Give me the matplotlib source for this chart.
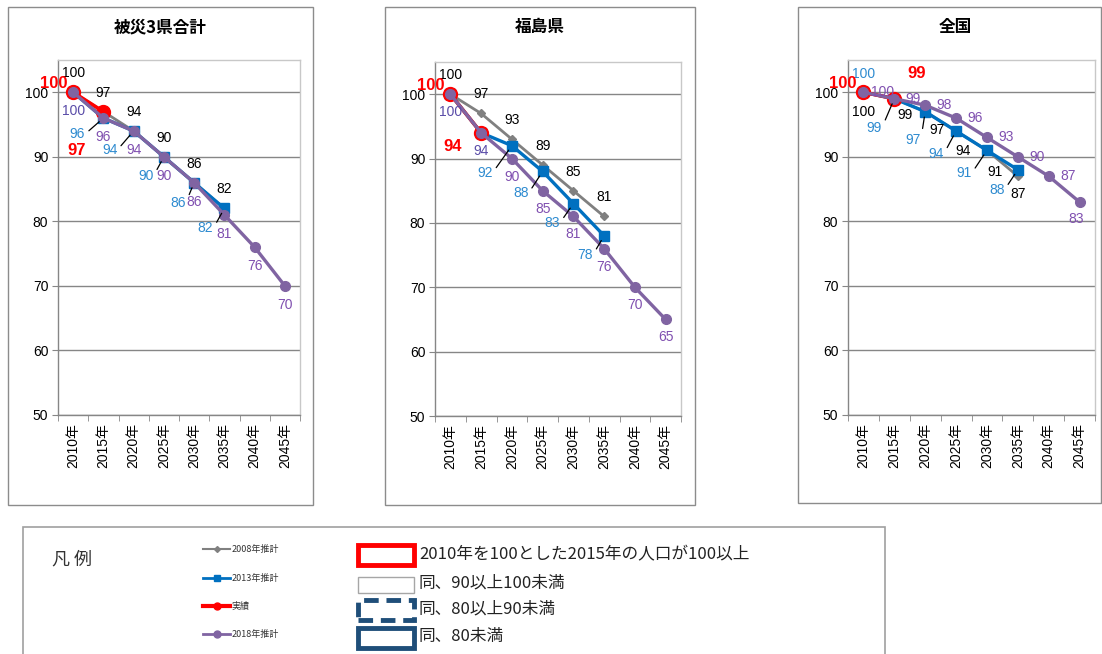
import matplotlib
matplotlib.use("Agg")
import matplotlib.pyplot as plt
from matplotlib.lines import Line2D
from matplotlib.patches import Rectangle
import numpy as np

# ---- data -------------------------------------------------------------
years = ["2010年", "2015年", "2020年", "2025年", "2030年", "2035年", "2040年", "2045年"]
titles = ["被災3県合計", "福島県", "全国"]

est2008_hisai = [100, 97, 94, 90, 86, 82]
est2013_hisai = [100, 96, 94, 90, 86, 82]
actual_hisai = [100, 97]
est2018_hisai = [100, 96, 94, 90, 86, 81, 76, 70]

est2008_fukushima = [100, 97, 93, 89, 85, 81]
est2013_fukushima = [100, 94, 92, 88, 83, 78]
actual_fukushima = [100, 94]
est2018_fukushima = [100, 94, 90, 85, 81, 76, 70, 65]

est2008_japan = [100, 99, 97, 94, 91, 87]
est2013_japan = [100, 99, 97, 94, 91, 88]
actual_japan = [100, 99]
est2018_japan = [100, 99, 98, 96, 93, 90, 87, 83]

legend_series = ["2008年推計", "2013年推計", "実績", "2018年推計"]
legend_boxes = ["2010年を100とした2015年の人口が100以上", "同、90以上100未満",
                "同、80以上90未満", "同、80未満"]

# ---- styling ----------------------------------------------------------
W, H = 1102, 654
NUM_FONT = ["Liberation Sans Narrow", "Liberation Sans", "Noto Sans CJK JP"]
JP_FONT = ["Noto Sans CJK JP", "DejaVu Sans"]
plt.rcParams["font.family"] = NUM_FONT

C_GRAY, C_BLUE, C_RED, C_PURPLE = "#808080", "#0070C0", "#FF0000", "#8064A2"
T_BLUE, T_PURPLE, T_MIX = "#2E8BD0", "#8050B0", "#5A4CA8"


def fx(x):
    return x / W


def fy(y):
    return 1 - y / H


fig = plt.figure(figsize=(W / 100, H / 100), dpi=100)

# label placement (pixel offsets) for each panel / series
# None -> no label drawn; tuple (dx, dy[, leader])
layout = [
    {  # 被災3県合計
        "gray": [(0, 19)] * 6,
        "blue": [None, (-26, -16, 1), (-24, -19, 1), (-18, -19, 1), (-16, -20, 1), (-19, -20, 1)],
        "red": [(-19, 9), (-27, -39)],
        "purple": [(0, -19)] * 8,
        "mix": [0],
    },
    {  # 福島県
        "gray": [(0, 19)] * 6,
        "blue": [None, None, (-27, -27, 1), (-22, -22, 1), (-21, -19, 1), (-19, -19, 1)],
        "red": [(-20, 9), (-28, -14)],
        "purple": [(0, -18)] * 8,
        "mix": [0, 1],
    },
    {  # 全国
        "gray": [(0, -20), (11, -16), (12, -18), (7, -20), (8, -22), (0, -18)],
        "blue": [(0, 18), (-20, -29, 1), (-12, -28, 1), (-20, -23, 1), (-23, -23, 1), (-21, -20, 1)],
        "red": [(-21, 9), (22, 25)],
        "purple": [(19, 0)] * 7 + [(-3, -17)],
        "mix": [],
    },
]

panels = [
    (est2008_hisai, est2013_hisai, actual_hisai, est2018_hisai),
    (est2008_fukushima, est2013_fukushima, actual_fukushima, est2018_fukushima),
    (est2008_japan, est2013_japan, actual_japan, est2018_japan),
]

ax_rects = [(58, 60, 300, 415), (435, 62, 681, 416), (848, 60, 1095, 415)]
frames = [(8, 7, 313, 505), (385, 7, 695, 505), (798, 7, 1101, 503)]
title_x = [160, 540, 955]


def put_label(ax, x, y, txt, spec, color, size=10, weight="normal"):
    if spec is None:
        return
    dx, dy = spec[0], spec[1]
    leader = len(spec) > 2
    kw = {}
    if leader:
        kw["arrowprops"] = dict(arrowstyle="-", color="black", lw=0.9,
                                shrinkA=1, shrinkB=4, relpos=(1.0, 0.5))
    ax.annotate(txt, xy=(x, y), xytext=(dx, dy), textcoords="offset pixels",
                ha="center", va="center", fontsize=size, color=color,
                fontweight=weight, family=NUM_FONT, zorder=10,
                annotation_clip=False, **kw)


for k, (g, b, r, p) in enumerate(panels):
    l, t, rr, bt = ax_rects[k]
    ax = fig.add_axes([fx(l), fy(bt), fx(rr) - fx(l), (bt - t) / H])
    xs = np.arange(len(years))

    ax.plot(xs[:len(g)], g, color=C_GRAY, lw=2.0, marker="D", ms=4.5,
            mfc=C_GRAY, mec=C_GRAY, zorder=3)
    ax.plot(xs[:len(b)], b, color=C_BLUE, lw=2.4, marker="s", ms=6.5,
            mfc=C_BLUE, mec=C_BLUE, zorder=4)
    ax.plot(xs[:len(r)], r, color=C_RED, lw=2.6, marker="o", ms=10,
            mfc=C_RED, mec=C_RED, zorder=5)
    ax.plot(xs[:len(p)], p, color=C_PURPLE, lw=2.4, marker="o", ms=7,
            mfc=C_PURPLE, mec=C_PURPLE, zorder=6)

    lay = layout[k]
    for i, v in enumerate(g):
        put_label(ax, i, v, str(v), lay["gray"][i], "black")
    for i, v in enumerate(b):
        put_label(ax, i, v, str(v), lay["blue"][i], T_BLUE)
    for i, v in enumerate(p):
        col = T_MIX if i in lay["mix"] else T_PURPLE
        put_label(ax, i, v, str(v), lay["purple"][i], col)
    for i, v in enumerate(r):
        put_label(ax, i, v, str(v), lay["red"][i], C_RED, size=12, weight="bold")

    ax.set_xlim(-0.5, len(years) - 0.5)
    ax.set_ylim(50, 105)
    ax.set_yticks(np.arange(50, 101, 10))
    ax.set_xticks(xs)
    ax.set_xticklabels(years, rotation=90, family=NUM_FONT, fontsize=10)
    ax.set_xticks(np.arange(-0.5, len(years), 1.0), minor=True)
    ax.tick_params(axis="x", which="major", length=0, pad=6)
    ax.tick_params(axis="x", which="minor", length=4, color="#868686", direction="out")
    ax.tick_params(axis="y", length=4, color="#868686", labelsize=10, pad=3)
    for lab in ax.get_yticklabels():
        lab.set_family(NUM_FONT)
    ax.grid(axis="y", color="#868686", lw=1.0, zorder=0)
    ax.set_axisbelow(True)
    for s in ("left", "bottom"):
        ax.spines[s].set_color("#868686")
        ax.spines[s].set_linewidth(1.0)
    for s in ("top", "right"):
        ax.spines[s].set_color("#C8C8C8")
        ax.spines[s].set_linewidth(1.0)

    fl, ft, fr, fb = frames[k]
    fig.add_artist(Rectangle((fx(fl), fy(fb)), fx(fr) - fx(fl), (fb - ft) / H,
                             transform=fig.transFigure, fill=False,
                             edgecolor="#8C8C8C", lw=1.0))
    fig.text(fx(title_x[k]), fy(27), titles[k], ha="center", va="center",
             fontsize=12, fontweight="bold", family=JP_FONT)

# ---- legend panel ------------------------------------------------------
fig.add_artist(Rectangle((fx(23), fy(660)), fx(885) - fx(23), (660 - 527) / H,
                         transform=fig.transFigure, fill=False,
                         edgecolor="#A0A0A0", lw=1.2))
fig.text(fx(52), fy(560), "凡 例", ha="left", va="center", fontsize=13,
         family=JP_FONT, color="#333333")

row_y = [549, 578, 606, 634]
styles = [(C_GRAY, "D", 3, 1.5), (C_BLUE, "s", 4.5, 2.0), (C_RED, "o", 5, 3.0),
          (C_PURPLE, "o", 5, 2.0)]
for yy, name, (c, m, ms, lw) in zip(row_y, legend_series, styles):
    fig.add_artist(Line2D([fx(203), fx(230)], [fy(yy), fy(yy)], color=c, lw=lw,
                          transform=fig.transFigure))
    fig.add_artist(Line2D([fx(216.5)], [fy(yy)], color=c, marker=m, ms=ms,
                          transform=fig.transFigure))
    fig.text(fx(232), fy(yy), name, ha="left", va="center", fontsize=6.5,
             family=JP_FONT, color="#333333")

box_rows = [(545, 565), (577, 593), (600, 620), (628, 648)]
box_styles = [
    dict(edgecolor=C_RED, lw=3.5, linestyle="-"),
    dict(edgecolor="#A6A6A6", lw=1.0, linestyle="-"),
    dict(edgecolor="#1F4E79", lw=3.5, linestyle=(0, (3, 1.6))),
    dict(edgecolor="#1F4E79", lw=3.5, linestyle="-"),
]
text_y = [555, 583, 609, 636]
for (t0, t1), st, ty, txt in zip(box_rows, box_styles, text_y, legend_boxes):
    fig.add_artist(Rectangle((fx(358), fy(t1)), fx(414) - fx(358), (t1 - t0) / H,
                             transform=fig.transFigure, facecolor="white", **st))
    fig.text(fx(419), fy(ty), txt, ha="left", va="center", fontsize=12,
             family=JP_FONT, color="#222222")

fig.savefig("out.png", dpi=100)
